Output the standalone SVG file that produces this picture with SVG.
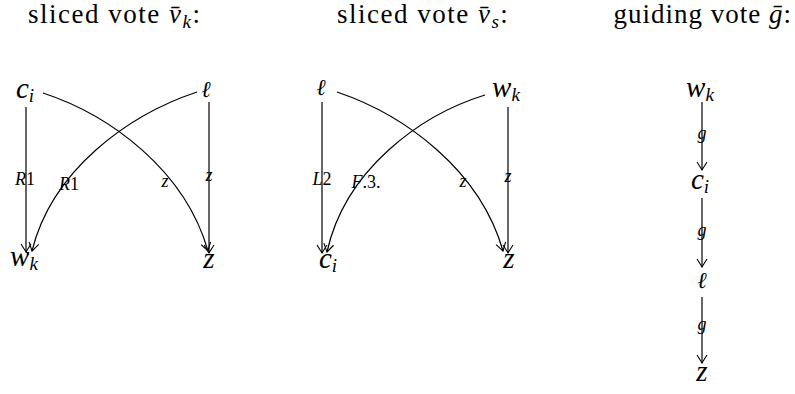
<svg xmlns="http://www.w3.org/2000/svg" width="795" height="394" viewBox="0 0 795 394">
<defs>
<style>
.title{font-family:"Liberation Serif","Times New Roman",serif;font-size:27px;letter-spacing:1.5px;fill:#000}
.m{font-family:"Liberation Serif","DejaVu Serif",serif;font-style:italic;font-size:29px;fill:#000}
.ell{font-size:23px}
.sub{font-size:19px}
.lab{font-family:"Liberation Serif","DejaVu Serif",serif;font-style:italic;font-size:18px;fill:#000}
.up{font-style:normal}
.e{fill:none;stroke:#000;stroke-width:1.2;marker-end:url(#ah)}
</style>
<marker id="ah" viewBox="-9 -6 11 12" markerWidth="11" markerHeight="12" refX="0" refY="0" orient="auto" markerUnits="userSpaceOnUse">
<path d="M-8,-5 Q-2.5,-1.5 0,0 Q-2.5,1.5 -8,5" fill="none" stroke="#000" stroke-width="1.1"/>
</marker>
</defs>
<rect width="795" height="394" fill="#fff"/>

<g id="titles">
<text class="title" x="28" y="23">sliced vote <tspan font-style="italic">v̄</tspan><tspan font-style="italic" font-size="19" dy="5">k</tspan><tspan dy="-5">:</tspan></text>
<text class="title" x="337" y="23">sliced vote <tspan font-style="italic">v̄</tspan><tspan font-style="italic" font-size="19" dy="5">s</tspan><tspan dy="-5">:</tspan></text>
<text class="title" x="792" y="23" text-anchor="end" style="letter-spacing:1px">guiding vote <tspan font-style="italic">ḡ</tspan>:</text>
</g>

<g id="connectors">
<path class="e" d="M26,107 L26,252"/>
<path class="e" d="M209,102 L209,253"/>
<path class="e" d="M43,93 C110,115 185,170 208,251"/>
<path class="e" d="M197,92 C128,115 52,170 32,251"/>
<path class="e" d="M322,102 L322,253"/>
<path class="e" d="M508,107 L508,253"/>
<path class="e" d="M337,92 C405,115 480,170 503,251"/>
<path class="e" d="M485,95 C420,115 345,170 327,252"/>
<path class="e" d="M702,102 L702,170"/>
<path class="e" d="M702,198 L702,267"/>
<path class="e" d="M702,297 L702,363"/>
</g>

<g id="edge-labels">
<text class="lab" x="25" y="185" text-anchor="middle">R<tspan class="up">1</tspan></text>
<text class="lab" x="69" y="190" text-anchor="middle">R<tspan class="up">1</tspan></text>
<text class="lab" x="165" y="187" text-anchor="middle">z</text>
<text class="lab" x="209" y="181" text-anchor="middle">z</text>
<text class="lab" x="322" y="185" text-anchor="middle">L<tspan class="up">2</tspan></text>
<text class="lab" x="366" y="188" text-anchor="middle">F<tspan class="up">.3.</tspan></text>
<text class="lab" x="463" y="187" text-anchor="middle">z</text>
<text class="lab" x="508" y="182" text-anchor="middle">z</text>
<text class="lab" x="702" y="139" text-anchor="middle">g</text>
<text class="lab" x="702" y="236" text-anchor="middle">g</text>
<text class="lab" x="702" y="330" text-anchor="middle">g</text>
</g>

<g id="d1-ci"><text class="m" x="25" y="98" text-anchor="middle">c<tspan class="sub" dy="4">i</tspan></text></g>
<g id="d1-l"><text class="m ell" x="206" y="97" text-anchor="middle">ℓ</text></g>
<g id="d1-wk"><text class="m" x="24" y="266" text-anchor="middle">w<tspan class="sub" dy="4">k</tspan></text></g>
<g id="d1-z"><text class="m" x="209" y="268" text-anchor="middle">z</text></g>

<g id="d2-l"><text class="m ell" x="321" y="95" text-anchor="middle">ℓ</text></g>
<g id="d2-wk"><text class="m" x="506" y="97" text-anchor="middle">w<tspan class="sub" dy="4">k</tspan></text></g>
<g id="d2-ci"><text class="m" x="328" y="268" text-anchor="middle">c<tspan class="sub" dy="4">i</tspan></text></g>
<g id="d2-z"><text class="m" x="509" y="268" text-anchor="middle">z</text></g>

<g id="d3-wk"><text class="m" x="700" y="97" text-anchor="middle">w<tspan class="sub" dy="4">k</tspan></text></g>
<g id="d3-ci"><text class="m" x="700" y="189" text-anchor="middle">c<tspan class="sub" dy="4">i</tspan></text></g>
<g id="d3-l"><text class="m ell" x="702" y="288" text-anchor="middle">ℓ</text></g>
<g id="d3-z"><text class="m" x="702" y="381" text-anchor="middle">z</text></g>
</svg>
